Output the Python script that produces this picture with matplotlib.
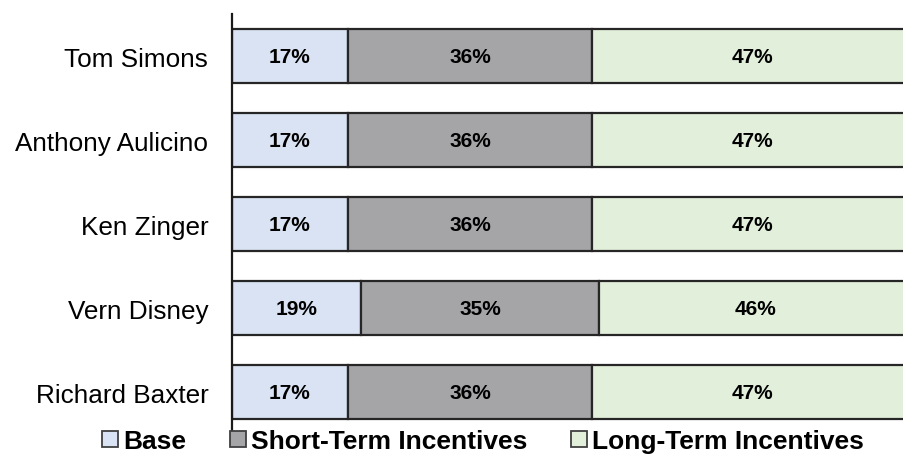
import numpy as np
import matplotlib.pyplot as plt
from matplotlib.lines import Line2D

plt.rcParams['font.family'] = ['Liberation Sans', 'DejaVu Sans']

names = ["Tom Simons", "Anthony Aulicino", "Ken Zinger", "Vern Disney", "Richard Baxter"]
base = [17, 17, 17, 19, 17]
short_term = [36, 36, 36, 35, 36]
long_term = [47, 47, 47, 46, 47]

series = ["Base", "Short-Term Incentives", "Long-Term Incentives"]
colors = ["#DAE3F3", "#A5A5A8", "#E2EFDA"]

fig = plt.figure(figsize=(9.04, 4.56), dpi=100)
ax = fig.add_axes([0.2565, 0.046, 0.7435, 0.921])

y = np.arange(len(names))
left = np.zeros(len(names))
for vals, col in zip([base, short_term, long_term], colors):
    vals = np.array(vals)
    ax.barh(y, vals, left=left, height=0.64, color=col, edgecolor="#262626", linewidth=1.6)
    for yi, l, v in zip(y, left, vals):
        ax.text(l + v / 2, yi, f"{v}%", ha="center", va="center", fontsize=15, fontweight="bold")
    left = left + vals

ax.set_ylim(len(names) - 0.5, -0.5)
ax.set_xlim(0, 98.8)
ax.set_yticks(y)
ax.set_yticklabels(names, fontsize=18.8)
ax.tick_params(axis="y", length=0, pad=17)
ax.set_xticks([])
for s in ["top", "right", "bottom"]:
    ax.spines[s].set_visible(False)
ax.spines["left"].set_linewidth(1.6)
ax.spines["left"].set_color("#1a1a1a")

handles = [Line2D([], [], marker="s", linestyle="none", markersize=11.5,
                  markerfacecolor=c, markeredgecolor="#404040", markeredgewidth=1.3) for c in colors]
leg = fig.legend(handles, series, loc="center", bbox_to_anchor=(0.534, 0.03), ncol=3,
                 frameon=False, prop={"weight": "bold", "size": 19},
                 handletextpad=0.15, columnspacing=1.6, handlelength=0.7,
                 borderpad=0, borderaxespad=0)

fig.savefig("out.png", dpi=100)
